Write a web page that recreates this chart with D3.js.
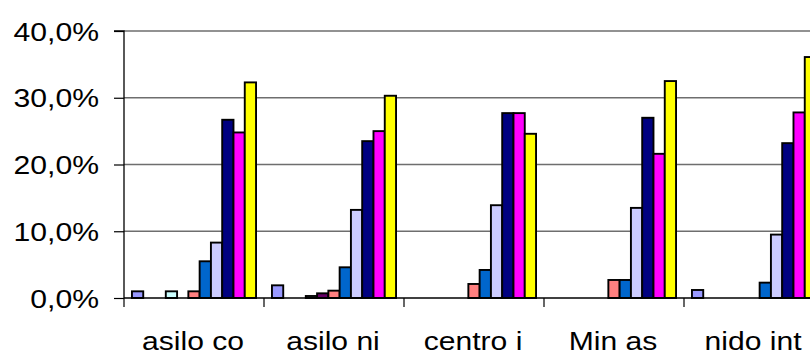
<!DOCTYPE html>
<html><head><meta charset="utf-8">
<script src="https://cdn.jsdelivr.net/npm/d3@7"></script>
<style>html,body{margin:0;padding:0;background:#fff;overflow:hidden}</style>
</head><body>
<svg id="c" width="810" height="356"></svg>
<script>
const categories = ["asilo co", "asilo ni", "centro i", "Min as", "nido int"];
const seriesNames = ["S1","S2","S3","S4","S5","S6","S7","S8","S9","S10","S11"];
const seriesColors = ["#9999FF","#993366","#FFFFCC","#CCFFFF","#660066","#FF8080","#0066CC","#CCCCFF","#000080","#FF00FF","#FFFF00"];
// values in percent, one array per category (series S1..S11)
const valAsiloCo  = [1.0, 0, 0, 1.0, 0,   1.0, 5.5, 8.3, 26.7, 24.8, 32.3];
const valAsiloNi  = [1.9, 0, 0, 0.3, 0.7, 1.1, 4.6, 13.2, 23.5, 25.0, 30.3];
const valCentroI  = [0,   0, 0, 0,   0,   2.1, 4.2, 13.9, 27.7, 27.7, 24.6];
const valMinAs    = [0,   0, 0, 0,   0,   2.7, 2.7, 13.5, 27.0, 21.6, 32.5];
const valNidoInt  = [1.2, 0, 0, 0,   0,   0,   2.3, 9.5, 23.2, 27.8, 36.1];
const values = [valAsiloCo, valAsiloNi, valCentroI, valMinAs, valNidoInt];
const yTicks = [0, 10, 20, 30, 40];
const yTickLabels = ["0,0%", "10,0%", "20,0%", "30,0%", "40,0%"];

const svg = d3.select("#c");
const mLeft = 124, mTop = 31, mBottom = 298, catW = 140;
const x0 = d3.scaleBand().domain(categories).range([mLeft, mLeft + catW*categories.length]).padding(0);
const x1 = d3.scaleBand().domain(seriesNames).range([0, x0.bandwidth()]).paddingInner(0).paddingOuter(0.705);
const y = d3.scaleLinear().domain([0, 40]).range([mBottom, mTop]);
const color = d3.scaleOrdinal().domain(seriesNames).range(seriesColors);

// gridlines
svg.append("g").selectAll("line").data(yTicks.filter(d => d > 0)).join("line")
  .attr("x1", mLeft).attr("x2", 810).attr("y1", d => y(d)).attr("y2", d => y(d))
  .attr("stroke", "#6e6e6e").attr("stroke-width", 1.3);

// bars
const gCat = svg.append("g").selectAll("g").data(categories).join("g")
  .attr("transform", d => `translate(${x0(d)},0)`);
gCat.selectAll("rect").data((d, i) => seriesNames.map((s, j) => ({s, v: values[i][j]})).filter(e => e.v > 0))
  .join("rect")
  .attr("x", d => x1(d.s)).attr("width", x1.bandwidth())
  .attr("y", d => y(d.v)).attr("height", d => y(0) - y(d.v))
  .attr("fill", d => color(d.s)).attr("stroke", "#000").attr("stroke-width", 1.9);

// y axis
const yAxis = d3.axisLeft(y).tickValues(yTicks).tickSize(10).tickFormat("");
const ya = svg.append("g").attr("transform", `translate(${mLeft},0)`).call(yAxis);
ya.select(".domain").attr("stroke", "#000").attr("stroke-width", 1.3).attr("d", `M-10,${mTop}H0V${mBottom}`);
ya.selectAll(".tick line").attr("stroke", "#000").attr("stroke-width", 1.2);
svg.append("g").selectAll("text").data(yTicks).join("text")
  .attr("transform", d => `translate(99,${y(d) + 9.5}) scale(1.16,1)`)
  .attr("text-anchor", "end")
  .attr("font-family", "Liberation Sans, Arial, sans-serif").attr("font-size", 26)
  .attr("fill", "#000").text((d, i) => yTickLabels[i]);

// x axis
const xa = svg.append("g").attr("transform", `translate(0,${mBottom})`);
xa.append("line").attr("x1", mLeft).attr("x2", 810).attr("stroke", "#000").attr("stroke-width", 1.3);
xa.selectAll("line.t").data(categories.concat(["end"])).join("line").attr("class", "t")
  .attr("x1", (d, i) => mLeft + i*catW).attr("x2", (d, i) => mLeft + i*catW)
  .attr("y1", 0).attr("y2", 9).attr("stroke", "#000").attr("stroke-width", 1.2);
svg.append("g").selectAll("text").data(categories).join("text")
  .attr("transform", d => `translate(${x0(d) + x0.bandwidth()/2 - 1},350) scale(1.18,1)`)
  .attr("text-anchor", "middle")
  .attr("font-family", "Liberation Sans, Arial, sans-serif").attr("font-size", 25.5)
  .attr("fill", "#000").text(d => d);
</script>
</body></html>
